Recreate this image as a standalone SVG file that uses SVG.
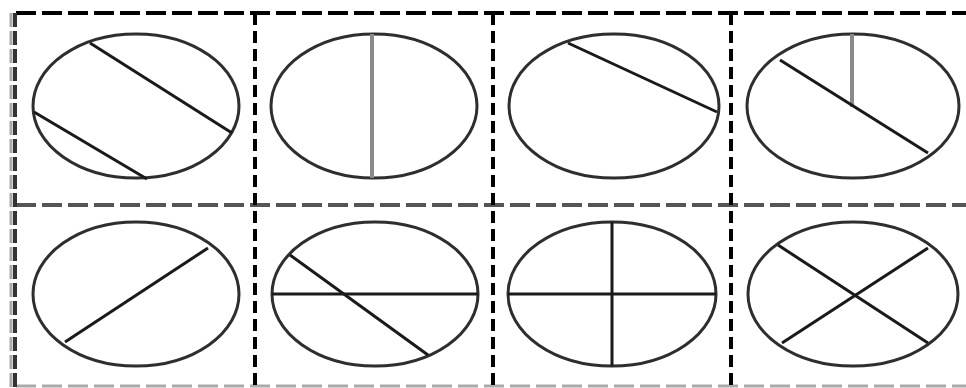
<svg xmlns="http://www.w3.org/2000/svg" width="966" height="388" viewBox="0 0 966 388">
<style>
.bg{fill:#ffffff}
.ell{fill:none;stroke:#2e2e2e;stroke-width:3}
.ln{stroke:#1a1a1a;stroke-width:3;stroke-linecap:butt}
.gl{stroke:#8a8a8a;stroke-width:4}
.hb{fill:none;stroke:#000;stroke-width:4;stroke-dasharray:20 6}
.hg{fill:none;stroke:#555;stroke-width:4;stroke-dasharray:20 6}
.hl{fill:none;stroke:#aaa;stroke-width:3;stroke-dasharray:20 6}
.vb{fill:none;stroke:#000;stroke-width:4;stroke-dasharray:12 6}
</style>
<rect class="bg" x="0" y="0" width="966" height="388"/>
<g id="grid">
<line class="hb" x1="16" y1="13" x2="966" y2="13"/>
<line class="hg" x1="16" y1="205" x2="966" y2="205"/>
<line class="hl" x1="16" y1="386" x2="966" y2="386"/>
<line x1="11" y1="13" x2="11" y2="388" stroke="#aaa" stroke-width="3" stroke-dasharray="14 4"/>
<line x1="15" y1="13" x2="15" y2="388" stroke="#333" stroke-width="4" stroke-dasharray="14 4"/>
<line class="vb" x1="255" y1="13" x2="255" y2="388"/>
<line class="vb" x1="493" y1="13" x2="493" y2="388"/>
<line class="vb" x1="731" y1="13" x2="731" y2="388"/>
</g>
<g id="cell1">
<ellipse class="ell" cx="136" cy="106" rx="103" ry="72"/>
<line class="ln" x1="90" y1="43" x2="232" y2="133"/>
<line class="ln" x1="34" y1="112" x2="147" y2="179"/>
</g>
<g id="cell2">
<ellipse class="ell" cx="374" cy="106" rx="103" ry="72"/>
<line class="gl" x1="372" y1="34" x2="372" y2="178"/>
</g>
<g id="cell3">
<ellipse class="ell" cx="614" cy="106" rx="105" ry="72"/>
<line class="ln" x1="568" y1="43" x2="717" y2="112"/>
</g>
<g id="cell4">
<ellipse class="ell" cx="853" cy="106" rx="106" ry="72"/>
<line class="gl" x1="852" y1="34" x2="852" y2="107"/>
<line class="ln" x1="780" y1="60" x2="928" y2="153"/>
</g>
<g id="cell5">
<ellipse class="ell" cx="136" cy="294" rx="103" ry="72"/>
<line class="ln" x1="65" y1="342" x2="208" y2="248"/>
</g>
<g id="cell6">
<ellipse class="ell" cx="375" cy="294" rx="103" ry="72"/>
<line class="ln" x1="272" y1="294" x2="478" y2="294"/>
<line class="ln" x1="290" y1="255" x2="428" y2="355"/>
</g>
<g id="cell7">
<ellipse class="ell" cx="612" cy="294" rx="104" ry="72"/>
<line class="ln" x1="508" y1="294" x2="716" y2="294"/>
<line class="ln" x1="612" y1="222" x2="612" y2="366"/>
</g>
<g id="cell8">
<ellipse class="ell" cx="853" cy="294" rx="105" ry="72"/>
<line class="ln" x1="778" y1="245" x2="928" y2="343"/>
<line class="ln" x1="782" y1="343" x2="928" y2="248"/>
</g>
</svg>
